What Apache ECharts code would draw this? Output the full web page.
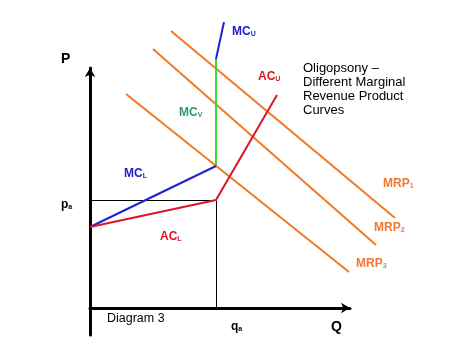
<!DOCTYPE html>
<html><head><meta charset="utf-8">
<script src="https://cdn.jsdelivr.net/npm/echarts@6/dist/echarts.min.js"></script>
<style>html,body{margin:0;padding:0;background:#fff}#c{width:459px;height:357px}</style>
</head><body><div id="c"></div>
<script>
// Data in chart units (Q along x, P along y)
const mcL  = [[0,81],[126,142]];
const mcV  = [[126,142],[126,249]];
const mcU  = [[126,249],[134,286]];
const acL  = [[0,81],[126,108]];
const acU  = [[126,108],[187,213]];
const paLine = [[0,107.5],[126,107.5]];
const qaLine = [[126.5,0],[126.5,107.5]];
const mrp1 = [[81,277],[305,90]];
const mrp2 = [[63,259],[286,63]];
const mrp3 = [[36,214],[259,36]];
const titleLines = ['Oligopsony –','Different Marginal','Revenue Product','Curves'];

const ORANGE='#ef7a25', BLUE='#2222cc', RED='#dd1426', GREEN='#33dd33', GREENTXT='#2f9a6a', OTXT='#f07832';
const FONT='Liberation Sans, Arial, sans-serif';

function seg(data,color,w){
  return {type:'line',xAxisIndex:1,yAxisIndex:1,data:data,symbol:'none',clip:false,silent:true,
    lineStyle:{color:color,width:w},animation:false};
}
function lab(x,y,main,sub,color,size){
  return {type:'text',left:x,top:y,silent:true,style:{
    text:'{m|'+main+'}'+(sub?'{s|'+sub+'}':''),
    rich:{m:{fontSize:size,fontWeight:'bold',fill:color,fontFamily:FONT,lineHeight:14,verticalAlign:'bottom'},
          s:{fontSize:7,fontWeight:'bold',fill:color,fontFamily:FONT,lineHeight:10,verticalAlign:'bottom'}}
  }};
}
const hiddenAxis={type:'value',show:false,axisLine:{show:false},axisTick:{show:false},axisLabel:{show:false},splitLine:{show:false}};
const chart=echarts.init(document.getElementById('c'));
chart.setOption({
  animation:false,
  backgroundColor:'#fff',
  grid:[{left:90,top:68,width:260,height:267},{left:90,top:0,width:360,height:335}],
  xAxis:[
    {type:'value',gridIndex:0,min:0,max:260,axisLine:{show:true,onZero:true,lineStyle:{color:'#000',width:3},symbol:['none','arrow'],symbolSize:[8,9]},
      axisTick:{show:false},axisLabel:{show:false},splitLine:{show:false}},
    Object.assign({},hiddenAxis,{gridIndex:1,min:0,max:360})
  ],
  yAxis:[
    {type:'value',gridIndex:0,min:-27,max:240,axisLine:{show:true,onZero:false,lineStyle:{color:'#000',width:3},symbol:['none','arrow'],symbolSize:[8,9]},
      axisTick:{show:false},axisLabel:{show:false},splitLine:{show:false}},
    Object.assign({},hiddenAxis,{gridIndex:1,min:-27,max:308})
  ],
  series:[
    seg(paLine,'#000',1), seg(qaLine,'#000',1),
    seg(mrp1,ORANGE,2), seg(mrp2,ORANGE,2), seg(mrp3,ORANGE,2),
    seg(mcV,GREEN,2), seg(mcL,BLUE,2), seg(mcU,BLUE,2),
    seg(acL,RED,2), seg(acU,RED,2)
  ],
  graphic:[
    lab(61,52,'P','', '#000',14),
    lab(61,199,'p','a','#000',12),
    lab(231,321,'q','a','#000',12),
    lab(331,320,'Q','', '#000',14),
    {type:'text',left:107,top:312,silent:true,style:{text:'Diagram 3',fontSize:12.5,fill:'#000',fontFamily:FONT}},
    {type:'text',left:303,top:62,silent:true,style:{text:titleLines.join('\n'),fontSize:13,lineHeight:13.7,fill:'#000',fontFamily:FONT}},
    lab(232,26,'MC','U',BLUE,12),
    lab(258,71,'AC','U',RED,12),
    lab(179,107,'MC','V',GREENTXT,12),
    lab(124,168,'MC','L',BLUE,12),
    lab(160,231,'AC','L',RED,12),
    lab(383,178,'MRP','1',OTXT,12),
    lab(374,222,'MRP','2',OTXT,12),
    lab(356,258,'MRP','3',OTXT,12)
  ]
});
</script></body></html>
